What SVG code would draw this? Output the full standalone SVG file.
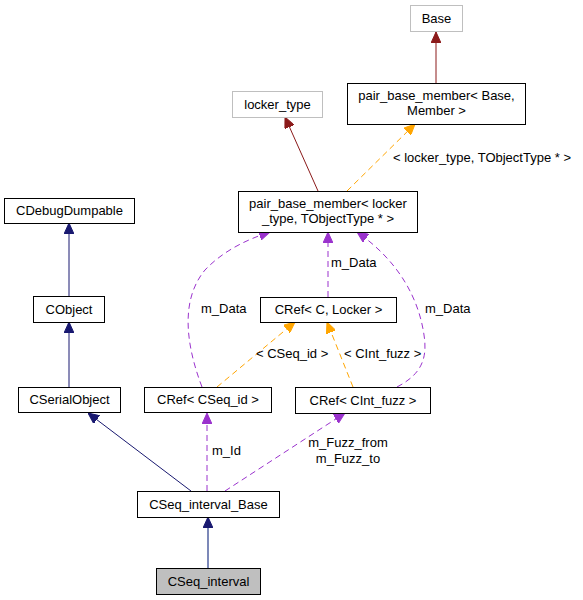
<svg xmlns="http://www.w3.org/2000/svg" width="583" height="600" viewBox="0 0 583 600">
<style>
text{font-family:"Liberation Sans",Arial,sans-serif;font-size:13px;fill:#000}
.n rect{fill:#fff;stroke:#000;stroke-width:1}
.g rect{fill:#fff;stroke:#bfbfbf;stroke-width:1}
.c text{text-anchor:middle}
.e{fill:none;stroke-width:1}
.nv{stroke:#191970}
.rd{stroke:#8b1a1a}
.or{stroke:#ffa500;stroke-dasharray:6,4}
.pu{stroke:#9a32cd;stroke-dasharray:6,4}
</style>
<defs>
<marker id="aN" markerUnits="userSpaceOnUse" markerWidth="11" markerHeight="10" viewBox="0 0 11 10" refX="11" refY="5" orient="auto"><path d="M0,0 L11,5 L0,10 z" fill="#191970" stroke="#191970" stroke-dasharray="none"/></marker>
<marker id="aR" markerUnits="userSpaceOnUse" markerWidth="11" markerHeight="10" viewBox="0 0 11 10" refX="11" refY="5" orient="auto"><path d="M0,0 L11,5 L0,10 z" fill="#8b1a1a" stroke="#8b1a1a" stroke-dasharray="none"/></marker>
<marker id="aO" markerUnits="userSpaceOnUse" markerWidth="11" markerHeight="10" viewBox="0 0 11 10" refX="11" refY="5" orient="auto"><path d="M0,0 L11,5 L0,10 z" fill="#ffa500" stroke="#ffa500" stroke-dasharray="none"/></marker>
<marker id="aP" markerUnits="userSpaceOnUse" markerWidth="11" markerHeight="10" viewBox="0 0 11 10" refX="11" refY="5" orient="auto"><path d="M0,0 L11,5 L0,10 z" fill="#9a32cd" stroke="#9a32cd" stroke-dasharray="none"/></marker>
</defs>
<rect width="583" height="600" fill="#fff"/>
<g id="connectors">
<path class="e rd" d="M436,83 L436,32" marker-end="url(#aR)"/>
<path class="e rd" d="M318,191 L285,117" marker-end="url(#aR)"/>
<path class="e or" d="M347,191 L415,124" marker-end="url(#aO)"/>
<path class="e nv" d="M69,296 L69,223" marker-end="url(#aN)"/>
<path class="e nv" d="M69,387 L69,322" marker-end="url(#aN)"/>
<path class="e nv" d="M191,491 L88,413" marker-end="url(#aN)"/>
<path class="e nv" d="M208,568 L208,517" marker-end="url(#aN)" style="stroke:#5060a0;stroke-width:1.5"/>
<path class="e pu" d="M207,491 L207,413" marker-end="url(#aP)"/>
<path class="e pu" d="M225,491 L345,413" marker-end="url(#aP)"/>
<path class="e or" d="M217,387 L295,322" marker-end="url(#aO)"/>
<path class="e or" d="M353,387 L327,322" marker-end="url(#aO)"/>
<path class="e pu" d="M328,297 L328,232" marker-end="url(#aP)"/>
<path class="e pu" d="M202,387 C186,345 180,300 205,270 C222,252 245,240 270,232" marker-end="url(#aP)"/>
<path class="e pu" d="M397,387 C420,375 428,360 424,335 C419,300 400,262 357,232" marker-end="url(#aP)"/>
<text x="393" y="162">&lt; locker_type, TObjectType * &gt;</text>
<text x="331" y="267">m_Data</text>
<text x="201" y="313">m_Data</text>
<text x="425" y="313">m_Data</text>
<text x="256" y="358">&lt; CSeq_id &gt;</text>
<text x="344" y="358">&lt; CInt_fuzz &gt;</text>
<text x="212" y="455">m_Id</text>
<text x="348" y="447" text-anchor="middle">m_Fuzz_from</text>
<text x="348" y="463" text-anchor="middle">m_Fuzz_to</text>
</g>
<g id="Base" class="g c"><rect x="410.5" y="5.5" width="52" height="26"/><text x="436.5" y="23">Base</text></g>
<g id="pbm_base" class="n c"><rect x="347.5" y="83.5" width="178" height="41"/><text x="436.5" y="100">pair_base_member&lt; Base,</text><text x="436.5" y="115">Member &gt;</text></g>
<g id="locker_type" class="g c"><rect x="232.5" y="91.5" width="90" height="26"/><text x="277.5" y="109">locker_type</text></g>
<g id="pbm_locker" class="n c"><rect x="238.5" y="191.5" width="179" height="41"/><text x="328" y="208">pair_base_member&lt; locker</text><text x="328" y="223">_type, TObjectType * &gt;</text></g>
<g id="CDebugDumpable" class="n c"><rect x="4.5" y="198.5" width="130" height="25"/><text x="69.5" y="215">CDebugDumpable</text></g>
<g id="CObject" class="n c"><rect x="33.5" y="296.5" width="71" height="26"/><text x="69" y="314">CObject</text></g>
<g id="CRefCLocker" class="n c"><rect x="260.5" y="297.5" width="136" height="25"/><text x="328.5" y="314">CRef&lt; C, Locker &gt;</text></g>
<g id="CSerialObject" class="n c"><rect x="18.5" y="387.5" width="102" height="25"/><text x="69.5" y="404">CSerialObject</text></g>
<g id="CRefCSeq_id" class="n c"><rect x="144.5" y="387.5" width="127" height="25"/><text x="208" y="404">CRef&lt; CSeq_id &gt;</text></g>
<g id="CRefCInt_fuzz" class="n c"><rect x="295.5" y="387.5" width="135" height="26"/><text x="363" y="405">CRef&lt; CInt_fuzz &gt;</text></g>
<g id="CSeq_interval_Base" class="n c"><rect x="137.5" y="491.5" width="142" height="26"/><text x="208.5" y="509">CSeq_interval_Base</text></g>
<g id="CSeq_interval" class="n c"><rect x="156.5" y="568.5" width="104" height="26" style="fill:#bfbfbf"/><text x="208.5" y="586">CSeq_interval</text></g>
</svg>
